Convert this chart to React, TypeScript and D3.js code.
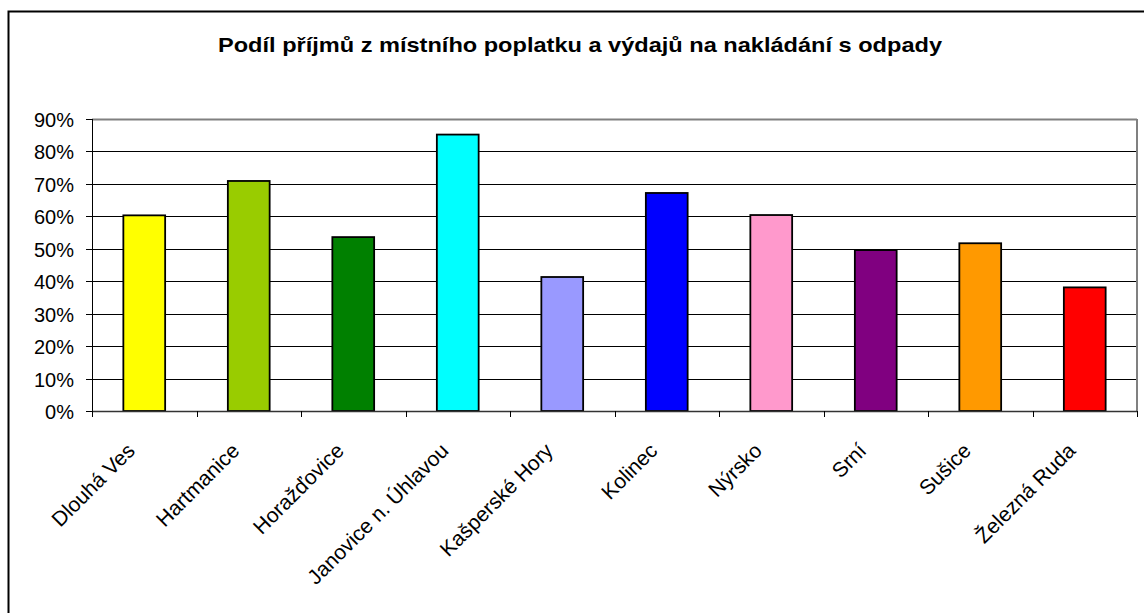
import * as d3 from 'd3';

const towns = [
  'Dlouhá Ves',
  'Hartmanice',
  'Horažďovice',
  'Janovice n. Úhlavou',
  'Kašperské Hory',
  'Kolinec',
  'Nýrsko',
  'Srní',
  'Sušice',
  'Železná Ruda',
];
const shares = [0.603, 0.709, 0.536, 0.852, 0.413, 0.672, 0.604, 0.496, 0.517, 0.381];
const barColors = [
  '#FFFF00', '#99CC00', '#008000', '#00FFFF', '#9999FF',
  '#0000FF', '#FF99CC', '#800080', '#FF9900', '#FF0000',
];
const yTicks = [0, 0.1, 0.2, 0.3, 0.4, 0.5, 0.6, 0.7, 0.8, 0.9];
const title = 'Podíl příjmů z místního poplatku a výdajů na nakládání s odpady';

const W = 1144;
const H = 613;
const plot = { left: 92, right: 1137, top: 119, bottom: 411 };
const font = 'Liberation Sans, Arial, sans-serif';

export default function App() {
  const x = d3
    .scaleBand<string>()
    .domain(towns)
    .range([plot.left, plot.right])
    .paddingInner(0.6)
    .paddingOuter(0.3);
  const y = d3.scaleLinear().domain([0, 0.9]).range([plot.bottom, plot.top]);
  const step = x.step();
  const pct = d3.format('.0%');

  return (
    <svg
      width={W}
      height={H}
      style={{ position: 'fixed', left: 0, top: 0, background: '#fff' }}
      fontFamily={font}
    >
      <rect x={0} y={0} width={W} height={H} fill="#fff" />
      {/* outer chart frame */}
      <rect x={8.5} y={11.5} width={W + 20} height={H + 20} fill="none" stroke="#000" strokeWidth={2} />

      <text
        x={580}
        y={52}
        textAnchor="middle"
        fontSize={21}
        fontWeight="bold"
        textLength={724}
        lengthAdjust="spacingAndGlyphs"
      >
        {title}
      </text>

      {/* gridlines */}
      {yTicks.slice(1).map((t) => (
        <line
          key={t}
          x1={plot.left}
          x2={plot.right}
          y1={Math.round(y(t)) + 0.5}
          y2={Math.round(y(t)) + 0.5}
          stroke={t === 0.9 ? '#808080' : '#000'}
          strokeWidth={t === 0.9 ? 2 : 1}
        />
      ))}
      <line x1={plot.right} x2={plot.right} y1={plot.top} y2={plot.bottom} stroke="#808080" strokeWidth={2} />

      {/* bars */}
      {towns.map((t, i) => (
        <rect
          key={t}
          x={x(t)}
          y={y(shares[i])}
          width={x.bandwidth()}
          height={plot.bottom - y(shares[i])}
          fill={barColors[i]}
          stroke="#000"
          strokeWidth={1.8}
        />
      ))}

      {/* y axis */}
      <line x1={plot.left + 0.5} x2={plot.left + 0.5} y1={plot.top} y2={plot.bottom} stroke="#000" />
      {yTicks.map((t) => (
        <g key={t} transform={`translate(0,${Math.round(y(t)) + 0.5})`}>
          <line x1={plot.left - 6} x2={plot.left} stroke="#000" />
          <text x={74} dy="0.35em" textAnchor="end" fontSize={20}>
            {pct(t)}
          </text>
        </g>
      ))}

      {/* x axis */}
      <line x1={plot.left} x2={plot.right} y1={plot.bottom + 0.5} y2={plot.bottom + 0.5} stroke="#333" strokeWidth={1.5} />
      {d3.range(towns.length + 1).map((k) => {
        const tx = Math.round(plot.left + k * step) + 0.5;
        return <line key={k} x1={tx} x2={tx} y1={plot.bottom} y2={plot.bottom + 6} stroke="#000" />;
      })}
      {towns.map((t) => {
        const cx = (x(t) ?? 0) + x.bandwidth() / 2;
        return (
          <text
            key={t}
            transform={`translate(${cx - 8},${plot.bottom + 41}) rotate(-45)`}
            textAnchor="end"
            fontSize={21}
          >
            {t}
          </text>
        );
      })}
    </svg>
  );
}
